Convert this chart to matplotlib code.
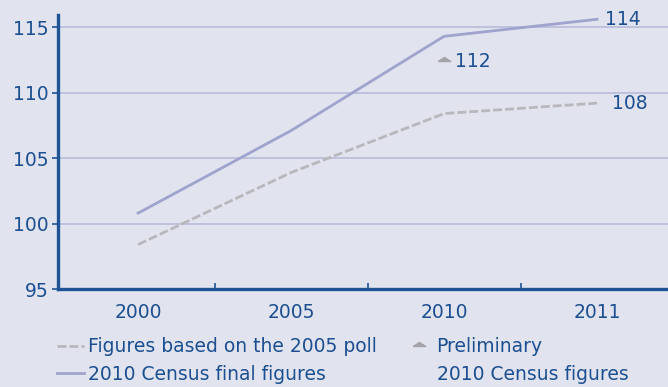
# Índice 2000-2011: cifras de encuesta 2005 vs censo 2010

import matplotlib.pyplot as plt
from matplotlib.lines import Line2D

# Seccion 1: Datos

years = ['2000', '2005', '2010', '2011']
poll_2005 = [98.4, 103.9, 108.4, 109.2]      # cifras según encuesta 2005
census_final = [100.8, 107.1, 114.3, 115.6]  # cifras finales censo 2010
census_prelim = [112.4]                      # cifra preliminar censo 2010 (solo 2010)
prelim_year = [2]
y_ticks = [95, 100, 105, 110, 115]

# etiquetas de valores (x, y, texto)
value_labels = [(3, 115.6, '114'), (2, 112.4, '112'), (3, 109.2, '108')]

# Seccion 2: Gráfica

bg = '#E1E3EE'
txt = '#1B4F91'
axis_c = '#1D5496'
grid_c = '#B8BCD9'
final_c = '#9EA4CD'
poll_c = '#B8B8BC'
tri_c = '#A3A3A8'
fs = 13.5

# triángulo plano para la cifra preliminar
tri = [(-1, 0), (1, 0), (0, 0.65), (-1, 0)]

plt.rcParams['font.family'] = ['DejaVu Sans']

fig = plt.figure(figsize=(6.68, 3.87), dpi=100, facecolor=bg)
ax = fig.add_axes([0.087, 0.253, 0.913, 0.708])
ax.set_facecolor(bg)

x = list(range(len(years)))

# rejilla
for v in y_ticks[1:]:
    ax.axhline(v, color=grid_c, linewidth=1.2, zorder=1)

ax.plot(x, poll_2005, color=poll_c, linewidth=2, linestyle=(0, (3.2, 1.1)), zorder=3)
ax.plot(x, census_final, color=final_c, linewidth=2, zorder=3)
ax.plot(prelim_year, census_prelim, linestyle='none', marker=tri, markersize=9,
        color=tri_c, zorder=3)

offsets = {'114': 0.05, '112': 0.07, '108': 0.1}
for i, v, s in value_labels:
    ax.text(i + offsets[s], v, s, color=txt, fontsize=fs, va='center', ha='left')

ax.set_xlim(-0.523, 3.464)
ax.set_ylim(95, 115.92)
ax.set_yticks(y_ticks)
ax.set_xticks(x)
ax.set_xticklabels(years)
ax.set_xticks([0.5, 1.5, 2.5], minor=True)

ax.tick_params(axis='y', colors=axis_c, labelcolor=txt, labelsize=fs, length=4,
               width=1.2, pad=3)
ax.tick_params(axis='x', which='major', length=0, labelcolor=txt, labelsize=fs, pad=10)
ax.tick_params(axis='x', which='minor', direction='in', length=4, width=1.2, colors=axis_c)

for s in ['top', 'right']:
    ax.spines[s].set_visible(False)
for s in ['left', 'bottom']:
    ax.spines[s].set_color(axis_c)
    ax.spines[s].set_linewidth(2.4)

# leyenda
handles = [
    Line2D([], [], color=poll_c, linewidth=2, linestyle=(0, (3.2, 1.1))),
    Line2D([], [], color=final_c, linewidth=2),
    Line2D([], [], linestyle='none', marker=tri, markersize=9, color=tri_c),
    Line2D([], [], linestyle='none'),
]
labels = ['Figures based on the 2005 poll', '2010 Census final figures',
          'Preliminary', '2010 Census figures']
leg = fig.legend(handles, labels, ncol=2, loc='upper left', bbox_to_anchor=(0.085, 0.128),
                 frameon=False, fontsize=fs, handlelength=1.45, handletextpad=0.2,
                 columnspacing=1.55, labelspacing=0.45, borderpad=0, borderaxespad=0)
for t in leg.get_texts():
    t.set_color(txt)

fig.savefig('out.png', dpi=100, facecolor=bg)
